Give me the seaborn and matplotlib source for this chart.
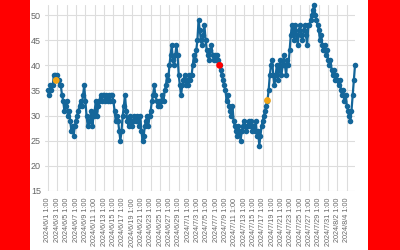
import matplotlib
matplotlib.use("Agg")
import matplotlib.pyplot as plt
import seaborn as sns
import pandas as pd
from matplotlib.patches import Rectangle

# 6-hourly readings starting 2024/6/1 1:00
values = [
    35, 34, 36, 35,  36, 38, 38, 37,  38, 37, 36, 36,  34, 33, 31, 32,
    33, 30, 31, 29,  27, 28, 26, 28,  29, 30, 31, 32,  33, 32, 34, 36,
    33, 30, 28, 29,  29, 31, 28, 30,  31, 33, 30, 32,  33, 34, 33, 34,
    34, 33, 34, 33,  34, 33, 34, 34,  33, 31, 29, 30,  29, 27, 25, 27,
    30, 32, 34, 31,  29, 28, 30, 29,  28, 29, 30, 29,  30, 29, 28, 30,
    27, 25, 26, 28,  29, 30, 28, 30,  31, 33, 34, 36,  34, 33, 32, 33,
    32, 33, 34, 33,  35, 36, 38, 37,  40, 42, 44, 41,  40, 42, 44, 42,
    38, 36, 34, 36,  37, 38, 36, 37,  36, 38, 37, 38,  40, 42, 41, 43,
    45, 49, 47, 45,  44, 46, 48, 45,  43, 42, 41, 43,  44, 42, 41, 42,
    41, 42, 41, 40,  39, 38, 37, 36,  35, 33, 34, 32,  31, 30, 32, 29,
    28, 27, 26, 28,  27, 25, 27, 28,  29, 28, 27, 28,  29, 28, 29, 27,
    28, 27, 29, 26,  27, 24, 26, 28,  29, 30, 31, 32,  33, 35, 38, 40,
    41, 38, 36, 38,  40, 37, 39, 41,  38, 40, 42, 40,  38, 41, 40, 43,
    46, 48, 47, 45,  48, 46, 44, 47,  48, 46, 45, 47,  48, 46, 44, 48,
    48, 49, 50, 51,  52, 50, 49, 48,  47, 45, 46, 44,  43, 44, 42, 43,
    41, 40, 41, 39,  38, 39, 37, 38,  37, 36, 37, 35,  34, 35, 33, 34,
    32, 31, 30, 29,  31, 34, 37, 40,
]
hours = [i * 6 for i in range(len(values))]

hl_hours = [42, 882, 1128]
hl_values = [37, 40, 33]
hl_colors = ["#F2A516", "#FF0000", "#F2A516"]

tick_labels = [
    "2024/6/1 1:00", "2024/6/3 1:00", "2024/6/5 1:00", "2024/6/7 1:00",
    "2024/6/9 1:00", "2024/6/11 1:00", "2024/6/13 1:00", "2024/6/15 1:00",
    "2024/6/17 1:00", "2024/6/19 1:00", "2024/6/21 1:00", "2024/6/23 1:00",
    "2024/6/25 1:00", "2024/6/27 1:00", "2024/6/29 1:00", "2024/7/1 1:00",
    "2024/7/3 1:00", "2024/7/5 1:00", "2024/7/7 1:00", "2024/7/9 1:00",
    "2024/7/11 1:00", "2024/7/13 1:00", "2024/7/15 1:00", "2024/7/17 1:00",
    "2024/7/19 1:00", "2024/7/21 1:00", "2024/7/23 1:00", "2024/7/25 1:00",
    "2024/7/27 1:00", "2024/7/29 1:00", "2024/7/31 1:00", "2024/8/2 1:00",
    "2024/8/4 1:00",
]
tick_pos = [i * 48 for i in range(len(tick_labels))]
y_ticks = [15, 20, 25, 30, 35, 40, 45, 50]

sns.set_style("white")
plt.rcParams["font.family"] = ["Liberation Sans", "DejaVu Sans"]

fig = plt.figure(figsize=(4, 2.5), dpi=100)
fig.patch.set_facecolor("#FF0000")
fig.patches.append(Rectangle((30 / 400, 0), 338 / 400, 1, transform=fig.transFigure,
                             facecolor="white", edgecolor="none", zorder=-1))
ax = fig.add_axes([45 / 400, 59 / 250, 310 / 400, 186 / 250])
ax.set_facecolor("white")

df = pd.DataFrame({"hour": hours, "value": values})
sns.lineplot(data=df, x="hour", y="value", ax=ax, color="#14669A", linewidth=1.6,
             marker="o", markersize=4.0, markeredgewidth=0, clip_on=False, zorder=3)
hdf = pd.DataFrame({"hour": hl_hours, "value": hl_values, "c": hl_colors})
sns.scatterplot(data=hdf, x="hour", y="value", hue="c", palette={c: c for c in set(hl_colors)},
                s=24, linewidth=0, ax=ax, legend=False, zorder=4, clip_on=False)

ax.set_xlim(-15.4, 1578)
ax.set_ylim(15, 52)
ax.set_xticks(tick_pos)
ax.set_xticklabels(tick_labels, rotation=90, fontsize=5.2, color="#666666")
ax.set_yticks(y_ticks)
ax.set_yticklabels([str(v) for v in y_ticks], fontsize=6.5, color="#666666")
ax.grid(True, color="#DDDDDD", linewidth=0.8)
ax.set_axisbelow(True)
for s in ax.spines.values():
    s.set_visible(False)
ax.tick_params(axis="x", length=3, color="#DDDDDD", pad=2)
ax.tick_params(axis="y", length=0, pad=3)
ax.set_xlabel("")
ax.set_ylabel("")

fig.savefig("out.png", dpi=100, facecolor=fig.get_facecolor())
